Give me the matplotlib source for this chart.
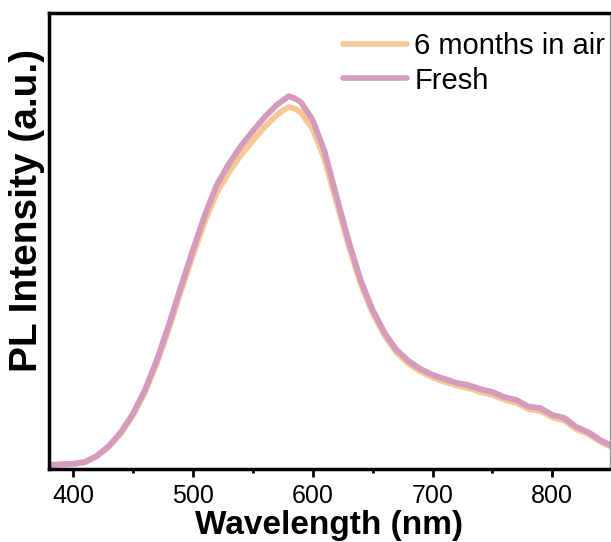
import numpy as np
import matplotlib
matplotlib.use("Agg")
import matplotlib.pyplot as plt
from matplotlib.ticker import MultipleLocator

plt.rcParams['font.family'] = ['Liberation Sans', 'DejaVu Sans']

# wavelength (nm) and normalised PL intensity
wavelength = [380, 400, 410, 420, 430, 440, 450, 460, 470, 480, 490, 500,
              510, 520, 530, 540, 550, 560, 570, 575, 580, 585, 590, 600,
              610, 620, 630, 640, 650, 660, 670, 680, 690, 700, 710, 720,
              730, 740, 750, 760, 770, 780, 790, 800, 810, 820, 830, 840, 848]
fresh = [0.011, 0.014, 0.019, 0.036, 0.063, 0.101, 0.151, 0.216, 0.299, 0.395,
         0.499, 0.600, 0.696, 0.779, 0.836, 0.885, 0.926, 0.965, 0.998, 1.010,
         1.022, 1.016, 1.006, 0.957, 0.870, 0.746, 0.625, 0.518, 0.436, 0.373,
         0.326, 0.296, 0.274, 0.258, 0.247, 0.236, 0.230, 0.219, 0.211, 0.197,
         0.189, 0.171, 0.167, 0.148, 0.140, 0.115, 0.101, 0.079, 0.066]
aged = [0.011, 0.014, 0.019, 0.035, 0.061, 0.098, 0.147, 0.210, 0.291, 0.384,
        0.487, 0.585, 0.678, 0.758, 0.813, 0.860, 0.900, 0.938, 0.970, 0.982,
        0.992, 0.988, 0.978, 0.932, 0.848, 0.730, 0.612, 0.508, 0.428, 0.366,
        0.319, 0.289, 0.267, 0.251, 0.239, 0.229, 0.222, 0.211, 0.203, 0.190,
        0.181, 0.164, 0.159, 0.141, 0.133, 0.109, 0.096, 0.075, 0.062]
labels = ["6 months in air", "Fresh"]

fig = plt.figure(figsize=(6.11, 5.42), dpi=100)
ax = fig.add_axes([0.0802, 0.1347, 0.918, 0.8413])

ax.plot(wavelength, aged, color='#F7C796', lw=4.2, label=labels[0],
        solid_capstyle='round')
ax.plot(wavelength, fresh, color='#D59BBD', lw=4.2, label=labels[1],
        solid_capstyle='round')

ax.set_xlim(380, 848)
ax.set_ylim(0, 1.25)
ax.xaxis.set_major_locator(MultipleLocator(100))
ax.xaxis.set_minor_locator(MultipleLocator(50))
ax.set_yticks([])
ax.tick_params(axis='x', which='major', direction='out', length=6, width=2,
               labelsize=18, pad=5)
ax.tick_params(axis='x', which='minor', direction='out', length=3, width=2)

for s in ['left', 'top', 'bottom']:
    ax.spines[s].set_linewidth(2.5)
ax.spines['right'].set_linewidth(1)
ax.spines['right'].set_color('#999999')

ax.set_xlabel('Wavelength (nm)', fontsize=24, fontweight='bold', labelpad=1)
ax.set_ylabel('PL Intensity (a.u.)', fontsize=28, fontweight='bold', labelpad=3)
ax.yaxis.label.set_y(0.566)

leg = ax.legend(loc='upper right', bbox_to_anchor=(1.018, 0.99), frameon=False,
                fontsize=21, handlelength=2.2, handletextpad=0.25,
                labelspacing=0.22, borderaxespad=0.1)
for line in leg.get_lines():
    line.set_linewidth(4)

fig.savefig('out.png', dpi=100)
